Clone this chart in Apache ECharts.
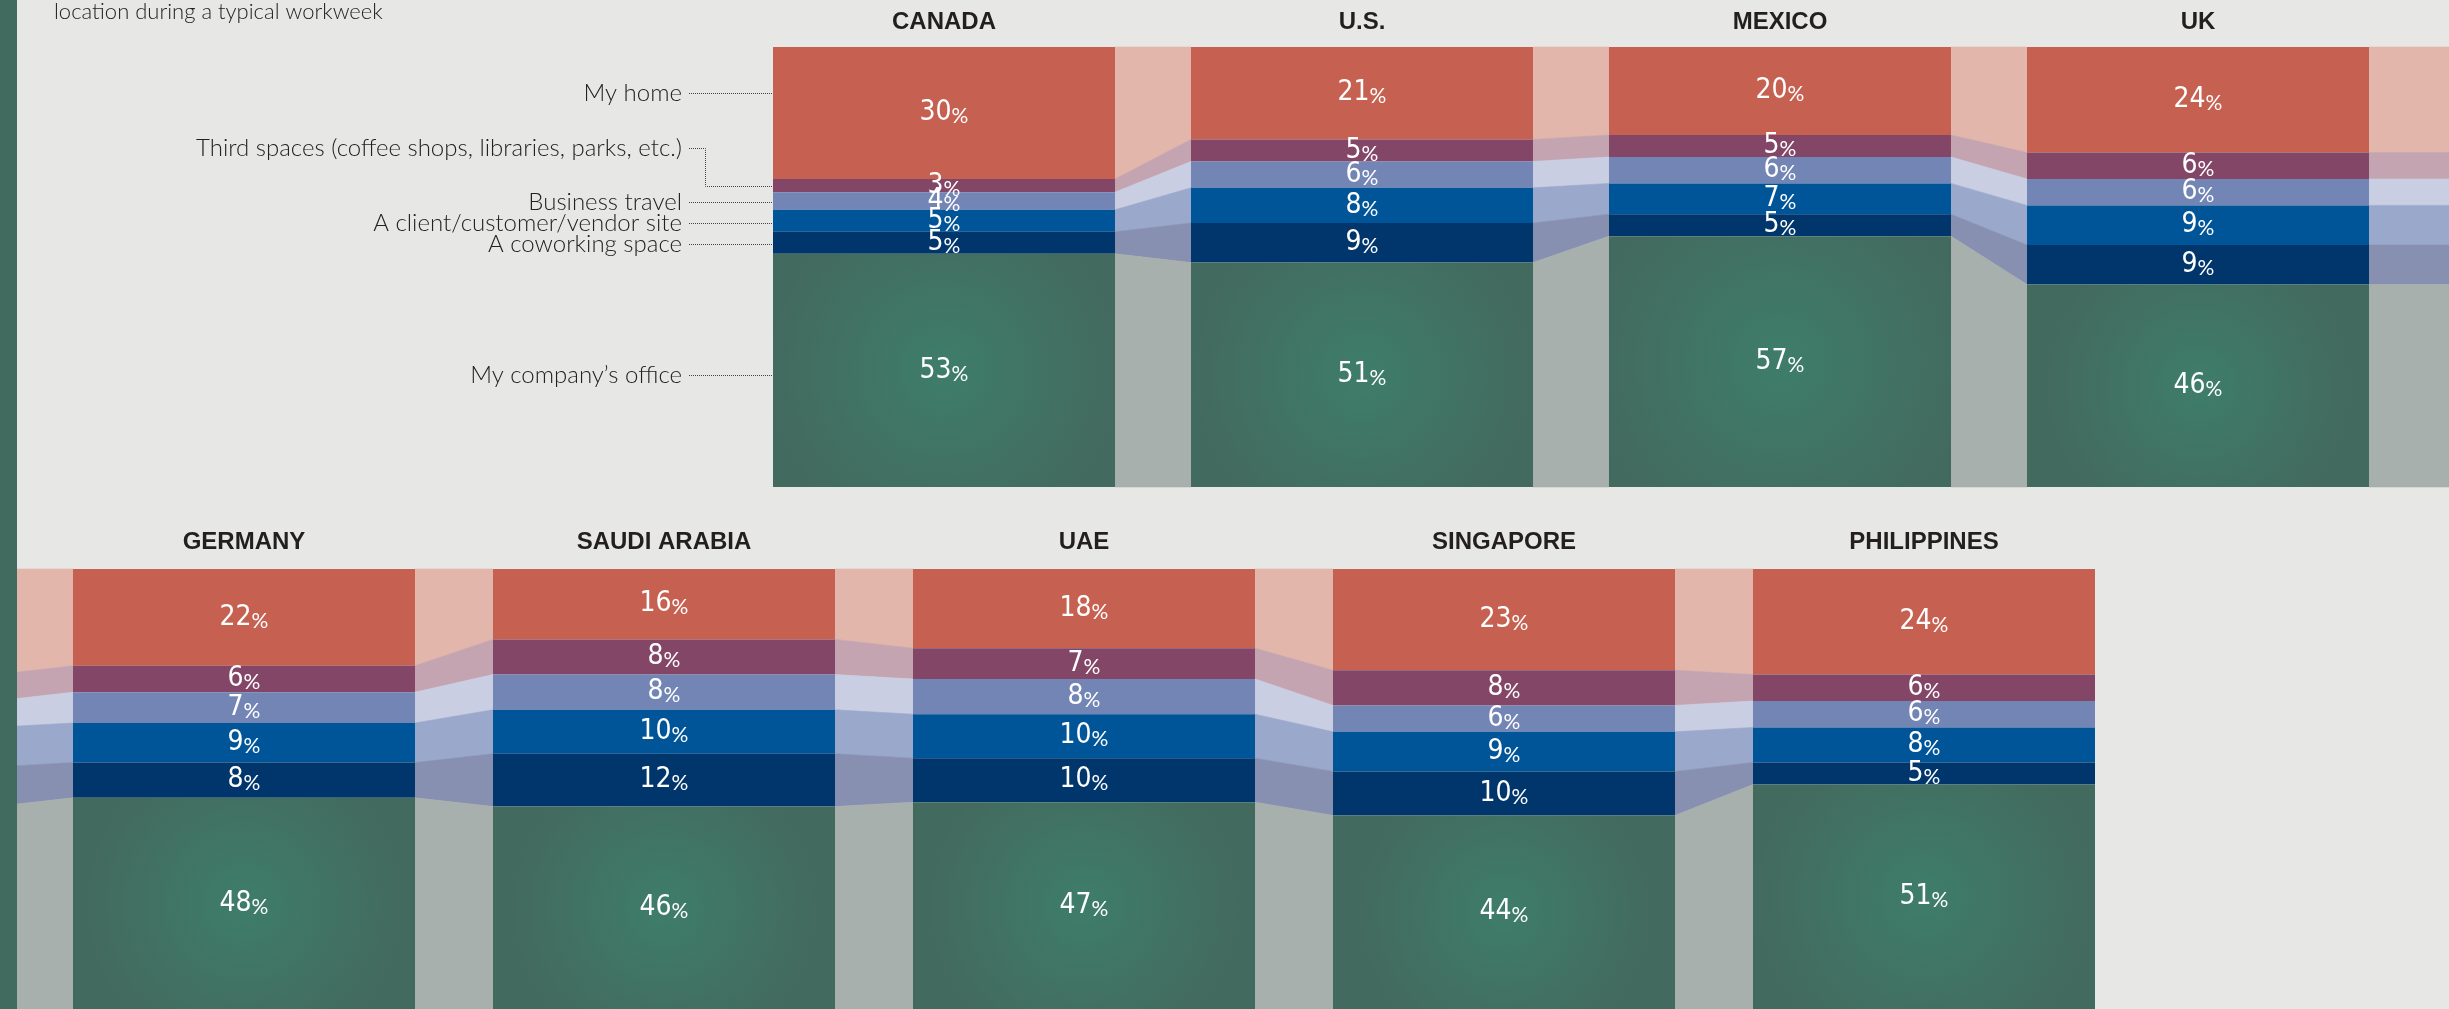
<!DOCTYPE html>
<html><head><meta charset="utf-8">
<script src="https://cdn.jsdelivr.net/npm/echarts@6/dist/echarts.min.js"></script>
<style>html,body{margin:0;padding:0;background:#E7E8E6;overflow:hidden}#chart{width:2449px;height:1009px;}</style>
</head><body><div id="chart"></div>
<script>
// ---------- DATA ----------
const countries = ['CANADA', 'U.S.', 'MEXICO', 'UK', 'GERMANY', 'SAUDI ARABIA', 'UAE', 'SINGAPORE', 'PHILIPPINES'];
const layerNames = ['My home', 'Third spaces (coffee shops, libraries, parks, etc.)', 'Business travel',
  'A client/customer/vendor site', 'A coworking space', 'My company\u2019s office'];
const myHome         = [30, 21, 20, 24, 22, 16, 18, 23, 24];
const thirdSpaces    = [3, 5, 5, 6, 6, 8, 7, 8, 6];
const businessTravel = [4, 6, 6, 6, 7, 8, 8, 6, 6];
const clientSite     = [5, 8, 7, 9, 9, 10, 10, 9, 8];
const coworking      = [5, 9, 5, 9, 8, 12, 10, 10, 5];
const companyOffice  = [53, 51, 57, 46, 48, 46, 47, 44, 51];
const subtitle = 'location during a typical workweek';

const layerValues = [myHome, thirdSpaces, businessTravel, clientSite, coworking, companyOffice];

// ---------- STYLE / LAYOUT ----------
const W = 2449, H = 1009;
const BAR_W = 342;
const FONT_NUM = "'Liberation Sans Narrow','DejaVu Sans Condensed',sans-serif";
const FONT_TEXT = "Lato,'Liberation Sans',sans-serif";
const FONT_TITLE = "'Liberation Sans',Arial,sans-serif";
const officeGradient = new echarts.graphic.RadialGradient(0.5, 0.5, 0.75, [
  { offset: 0, color: '#3E7D6A' }, { offset: 1, color: '#436A5F' }]);
const barColors = ['#C66151', '#844667', '#7385B5', '#005598', '#00366B', officeGradient];
const linkColors = ['#E3B6AB', '#C4A4B0', '#C9CEE2', '#9AA8CC', '#8790B0', '#A7B0AC'];
const rows = [
  { from: 0, to: 4, grid: { left: 735, width: 1672, top: 47, height: 440 }, titleMargin: 25 },
  { from: 4, to: 9, grid: { left: 34, width: 2100, top: 569, height: 440 }, titleMargin: 27 }
];
// legend annotation layout (pixel offsets from segment centre)
const legendDy = [-20, -37.5, 1, 2, 1, 4.5];
const legendElbow = [false, true, false, false, false, false];
const TEXT_GAP = 91, LINE_GAP = 84, ELBOW_GAP = 68;

// ---------- BUILD ----------
const grids = [], xAxes = [], yAxes = [], series = [];
rows.forEach((row, r) => {
  grids.push(Object.assign({ containLabel: false }, row.grid));
  xAxes.push({
    type: 'category', gridIndex: r, position: 'top',
    data: countries.slice(row.from, row.to),
    axisLine: { show: false }, axisTick: { show: false }, splitLine: { show: false },
    axisLabel: { interval: 0, margin: row.titleMargin, verticalAlign: 'middle',
      fontFamily: FONT_TITLE, fontWeight: 'bold', fontSize: 24, color: '#231F20' }
  });
  yAxes.push({ type: 'value', gridIndex: r, min: 0, max: 100, inverse: true, show: false });

  layerValues.forEach((vals, k) => {
    series.push({
      type: 'bar', name: layerNames[k], xAxisIndex: r, yAxisIndex: r, stack: 'row' + r,
      barWidth: BAR_W, data: vals.slice(row.from, row.to), z: 3,
      itemStyle: { color: barColors[k] },
      label: {
        show: true, position: 'inside', color: '#fff',
        formatter: p => '{n|' + p.value + '}{p|%}',
        rich: {
          n: { fontFamily: FONT_NUM, fontSize: 28, color: '#fff', verticalAlign: 'bottom', lineHeight: 28 },
          p: { fontFamily: FONT_TEXT, fontSize: 21, color: '#fff', verticalAlign: 'bottom', lineHeight: 23 }
        }
      }
    });
  });

  // connectors between consecutive bars (and wrap-around pieces)
  const links = [];
  const n = row.to - row.from;
  if (r === 1) links.push({ lc: -1, rc: 0, li: row.from - 1, ri: row.from, tail: false });
  for (let c = 0; c < n - 1; c++) links.push({ lc: c, rc: c + 1, li: row.from + c, ri: row.from + c + 1, tail: false });
  if (r === 0) links.push({ lc: n - 1, rc: n, li: row.to - 1, ri: row.to - 1, tail: true });

  series.push({
    type: 'custom', xAxisIndex: r, yAxisIndex: r, z: 1, silent: true,
    data: links.map(l => [l.lc, 0]),
    renderItem: (params, api) => {
      const l = links[params.dataIndex];
      const band = api.size([1, 0])[0];
      const x0 = api.coord([0, 0])[0];
      const xa = x0 + l.lc * band + BAR_W / 2;
      const xb = l.tail ? api.getWidth() : x0 + l.rc * band - BAR_W / 2;
      let ca = 0, cb = 0;
      const children = [];
      layerValues.forEach((vals, k) => {
        const va = vals[l.li], vb = vals[l.ri];
        const ya0 = api.coord([0, ca])[1], ya1 = api.coord([0, ca + va])[1];
        const yb0 = api.coord([0, cb])[1], yb1 = api.coord([0, cb + vb])[1];
        ca += va; cb += vb;
        children.push({
          type: 'polygon',
          shape: { points: [[xa, ya0], [xb, yb0], [xb, yb1], [xa, ya1]] },
          style: { fill: linkColors[k], stroke: linkColors[k], lineWidth: 0.6 }
        });
      });
      return { type: 'group', children };
    }
  });
});

// legend annotations to the left of the first bar
series.push({
  type: 'custom', xAxisIndex: 0, yAxisIndex: 0, z: 5, silent: true,
  data: [[0, 0]],
  renderItem: (params, api) => {
    const barLeft = api.coord([0, 0])[0] - BAR_W / 2;
    const children = [];
    let cum = 0;
    layerValues.forEach((vals, k) => {
      const v = vals[0];
      const yc = api.coord([0, cum + v / 2])[1];
      cum += v;
      const ty = Math.round(yc + legendDy[k]) + 0.5;
      const yb = Math.round(yc) + 0.5;
      children.push({
        type: 'text', x: barLeft - TEXT_GAP, y: ty,
        style: { text: layerNames[k], align: 'right', verticalAlign: 'middle',
          fontFamily: FONT_TEXT, fontWeight: 300, fontSize: 24, fill: '#222222' }
      });
      const pts = legendElbow[k]
        ? [[barLeft - LINE_GAP, ty], [barLeft - ELBOW_GAP + 0.5, ty], [barLeft - ELBOW_GAP + 0.5, yb], [barLeft, yb]]
        : [[barLeft - LINE_GAP, ty], [barLeft, ty]];
      children.push({
        type: 'polyline', shape: { points: pts },
        style: { stroke: '#444444', lineWidth: 1, lineDash: [1, 1], fill: null }
      });
    });
    return { type: 'group', children };
  }
});

const chart = echarts.init(document.getElementById('chart'), null, { renderer: 'canvas', width: W, height: H });
chart.setOption({
  backgroundColor: '#E7E8E6',
  animation: false,
  grid: grids, xAxis: xAxes, yAxis: yAxes, series,
  graphic: [
    { type: 'rect', left: 0, top: 0, z: 100, shape: { width: 17, height: H }, style: { fill: '#426B60' } },
    { type: 'text', left: 54, top: 1, z: 100,
      style: { text: subtitle, fontFamily: FONT_TEXT, fontWeight: 300, fontSize: 22, fill: '#222222' } }
  ]
});
</script>
</body></html>
